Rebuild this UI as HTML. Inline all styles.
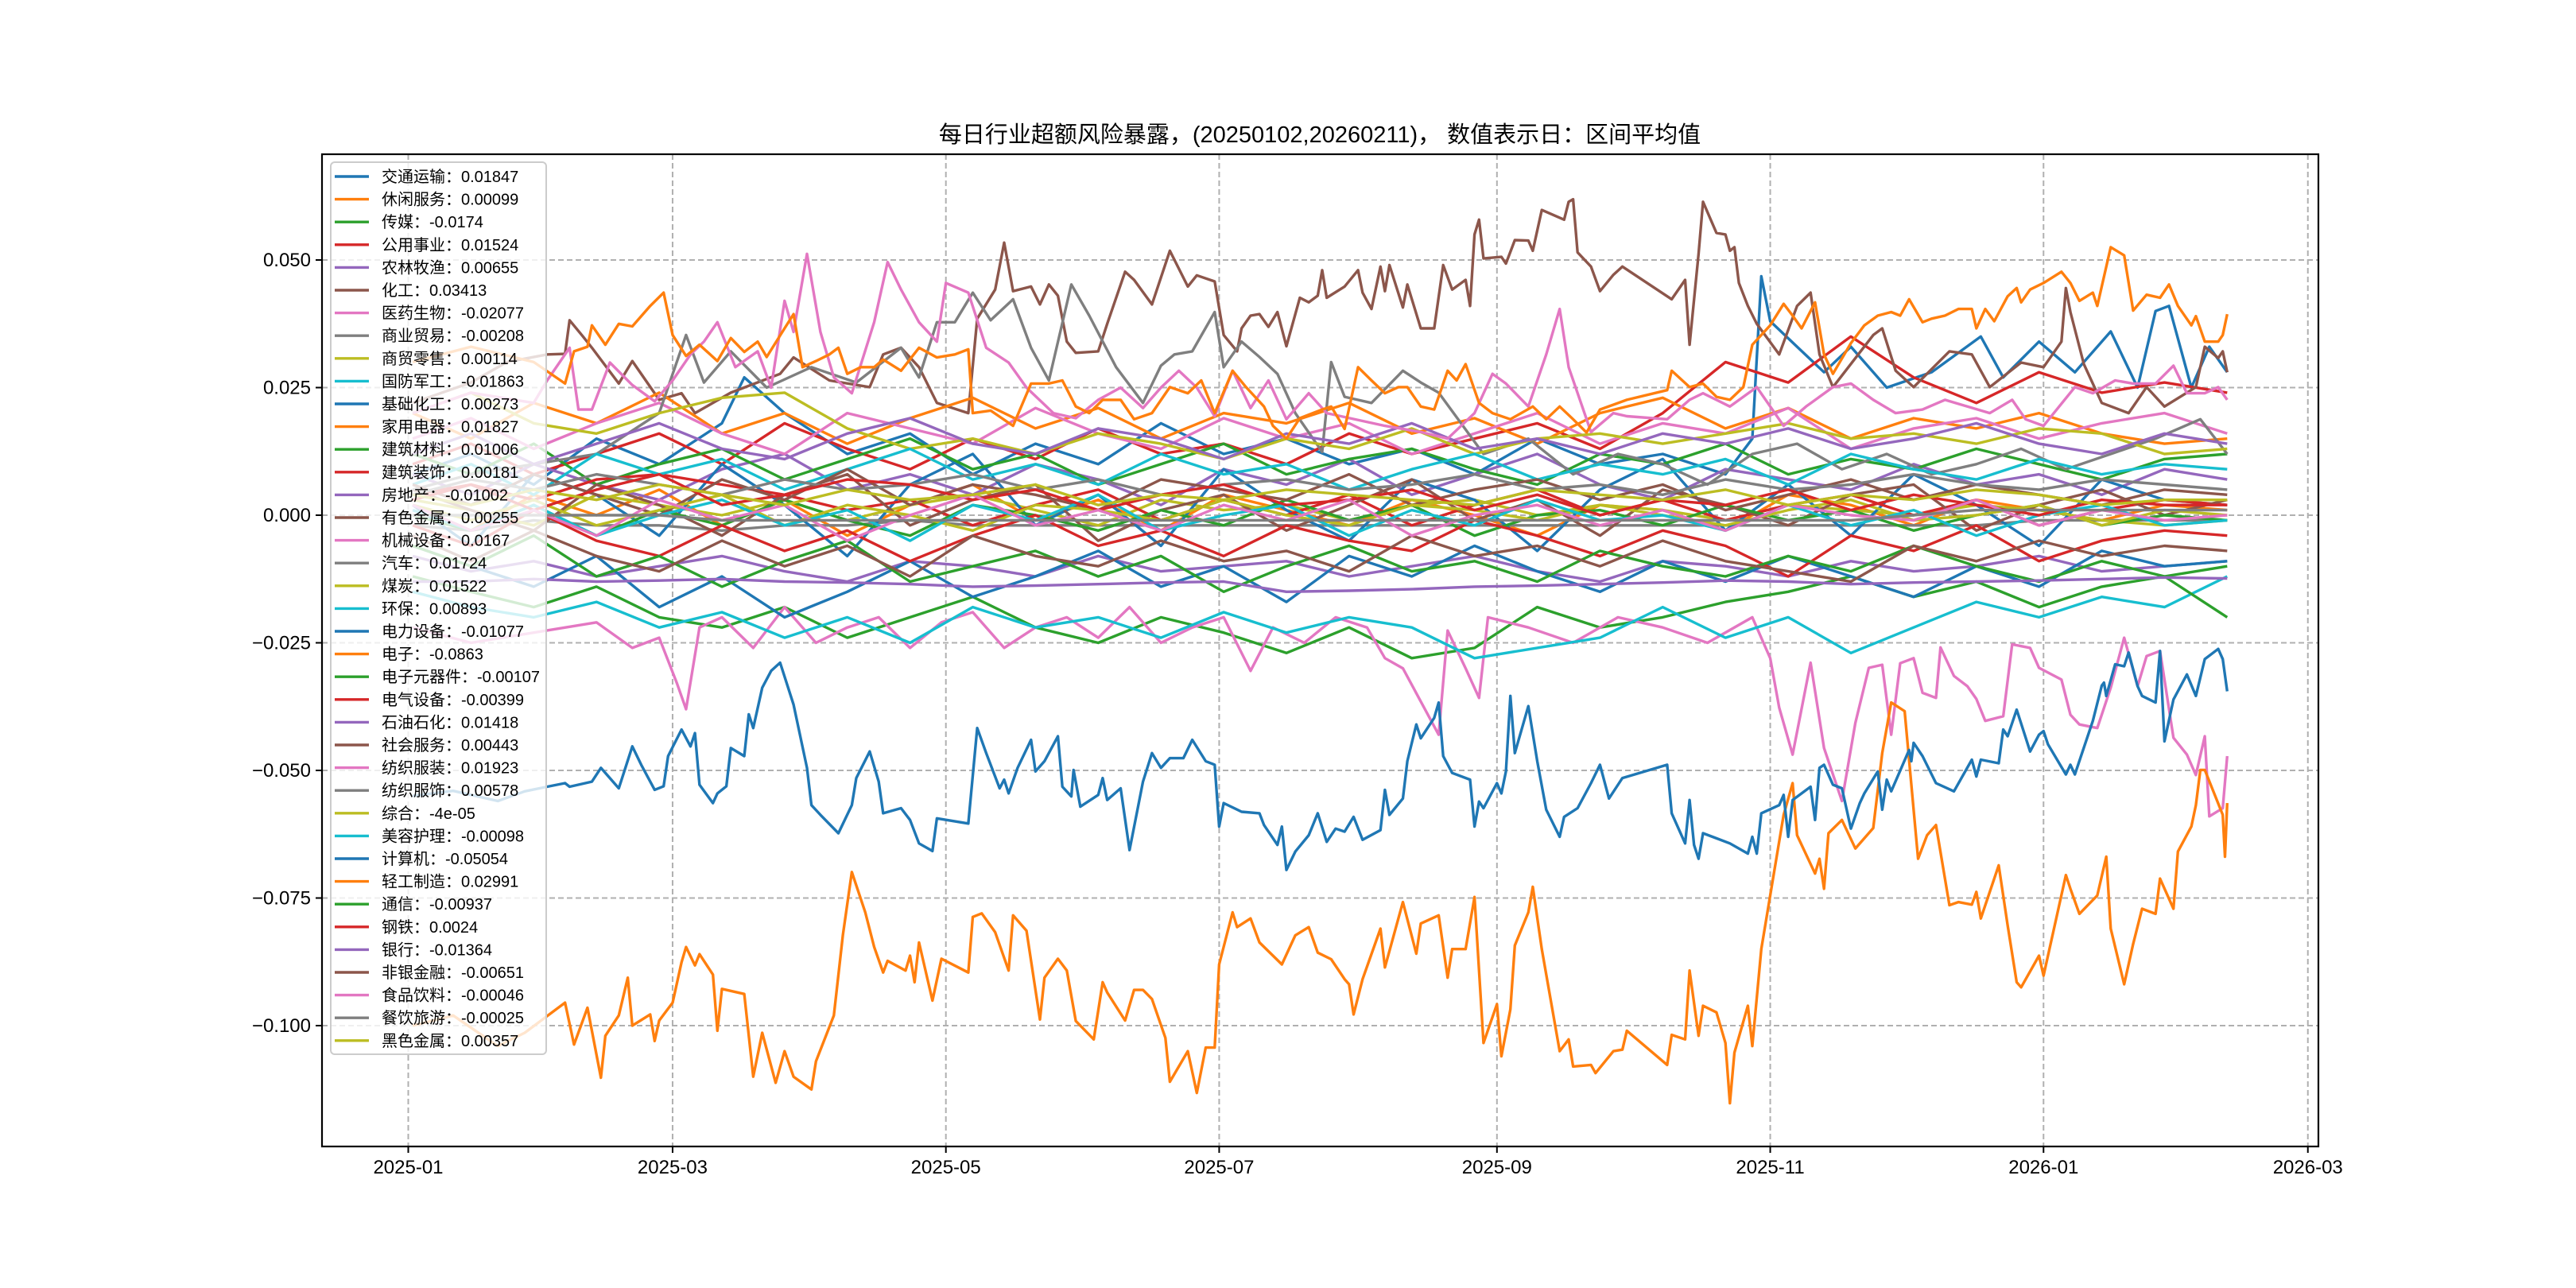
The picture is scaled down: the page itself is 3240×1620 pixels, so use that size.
<!DOCTYPE html>
<html><head><meta charset="utf-8"><style>
html,body{margin:0;padding:0;background:#fff;}
svg{display:block;}
text{font-family:"Liberation Sans","Noto Sans CJK SC",sans-serif;}
</style></head>
<body>
<svg id="chart" width="3240" height="1620" viewBox="0 0 3240 1620" xmlns="http://www.w3.org/2000/svg">
<rect x="0" y="0" width="3240" height="1620" fill="#fff"/>
<text x="1660" y="179" text-anchor="middle" font-size="29" fill="#000">每日行业超额风险暴露，(20250102,20260211)， 数值表示日：区间平均值</text>
<defs><clipPath id="plotclip"><rect x="405" y="194" width="2511" height="1248"/></clipPath></defs>
<g id="grid"></g>
<g id="series" clip-path="url(#plotclip)"></g>
<rect x="405" y="194" width="2511" height="1248" fill="none" stroke="#000" stroke-width="2.2"/>
<g id="axes"></g>
<g id="legend"></g>
</svg>
<script>
const yTicks = [-0.1,-0.075,-0.05,-0.025,0,0.025,0.05];
const yTickLabels = ["−0.100","−0.075","−0.050","−0.025","0.000","0.025","0.050"];
const xTickLabels = ["2025-01","2025-03","2025-05","2025-07","2025-09","2025-11","2026-01","2026-03"];
const colors = ["#1f77b4","#ff7f0e","#2ca02c","#d62728","#9467bd","#8c564b","#e377c2","#7f7f7f","#bcbd22","#17becf"];
const names = ["交通运输","休闲服务","传媒","公用事业","农林牧渔","化工","医药生物","商业贸易","商贸零售","国防军工","基础化工","家用电器","建筑材料","建筑装饰","房地产","有色金属","机械设备","汽车","煤炭","环保","电力设备","电子","电子元器件","电气设备","石油石化","社会服务","纺织服装","纺织服饰","综合","美容护理","计算机","轻工制造","通信","钢铁","银行","非银金融","食品饮料","餐饮旅游","黑色金属"];
const means = ["0.01847","0.00099","-0.0174","0.01524","0.00655","0.03413","-0.02077","-0.00208","0.00114","-0.01863","0.00273","0.01827","0.01006","0.00181","-0.01002","0.00255","0.0167","0.01724","0.01522","0.00893","-0.01077","-0.0863","-0.00107","-0.00399","0.01418","0.00443","0.01923","0.00578","-4e-05","-0.00098","-0.05054","0.02991","-0.00937","0.0024","-0.01364","-0.00651","-0.00046","-0.00025","0.00357"];

const gridDays = [1,14,28,42,56,70,84,98,112,126,140,154,168,182,196,210,224,238,252,266,280,294,308,322,336,350,364,378,392,406];

const v_xiuxian = [0.002,-0.003,0.004,0,0.005,-0.002,0.003,-0.004,0.002,0.006,-0.001,0.003,-0.003,0.004,0.001,-0.002,0.003,0,-0.004,0.002,0.001,-0.003,0.004,0.002,-0.002,0.003,0.001,-0.001,0.002,0.001];
const v_chuanmei = [-0.012,-0.015,-0.018,-0.014,-0.02,-0.022,-0.018,-0.024,-0.02,-0.016,-0.022,-0.025,-0.02,-0.023,-0.027,-0.022,-0.028,-0.026,-0.018,-0.022,-0.02,-0.017,-0.015,-0.012,-0.016,-0.013,-0.018,-0.014,-0.012,-0.01];
const v_gongyong = [0.01,0.014,0.008,0.012,0.016,0.01,0.018,0.013,0.009,0.015,0.011,0.017,0.012,0.014,0.01,0.016,0.012,0.015,0.018,0.013,0.02,0.03,0.026,0.035,0.027,0.022,0.028,0.024,0.026,0.024];
const v_nonglin = [0.008,0.004,0.01,0.006,0.003,0.009,0.012,0.005,0.008,0.004,0.01,0.007,0.002,0.009,0.006,0.011,0.004,0.008,0.012,0.006,0.003,0.009,0.007,0.005,0.01,0.006,0.008,0.004,0.009,0.007];
const v_shangmao = [-0.002,-0.003,-0.001,-0.002,-0.002,-0.003,-0.002,-0.002,-0.001,-0.002,-0.002,-0.002,-0.002,-0.002,-0.002,-0.002,-0.002,-0.002,-0.002,-0.002,-0.002,-0.002,-0.002,-0.002,-0.002,-0.002,-0.001,-0.001,-0.001,-0.001];
const v_lingshou = [0.003,0.001,-0.002,0.004,0.002,0,0.003,-0.001,0.002,0.004,0.001,-0.002,0.003,0.001,0.002,-0.001,0.002,0.003,0,0.002,0.001,-0.001,0.002,0.001,0,0.002,0.001,-0.001,-0.002,-0.001];
const v_guofang = [-0.015,-0.018,-0.02,-0.017,-0.022,-0.019,-0.024,-0.02,-0.025,-0.018,-0.022,-0.02,-0.024,-0.019,-0.023,-0.02,-0.022,-0.028,-0.026,-0.024,-0.018,-0.024,-0.02,-0.027,-0.022,-0.017,-0.02,-0.016,-0.018,-0.012];
const v_jichu = [0.002,-0.006,0.008,0.004,-0.004,0.01,0.002,-0.008,0.006,0.012,-0.002,0.004,-0.006,0.009,0.001,-0.005,0.007,0.003,-0.007,0.005,0.011,-0.003,0.006,-0.004,0.008,0.002,-0.006,0.007,0.003,0.002];
const v_jiadian = [0.02,0.015,0.022,0.018,0.024,0.016,0.02,0.014,0.019,0.023,0.017,0.021,0.015,0.02,0.018,0.022,0.016,0.019,0.014,0.02,0.023,0.017,0.021,0.015,0.019,0.017,0.02,0.016,0.014,0.015];
const v_jiancai = [0.012,0.008,0.014,0.006,0.01,0.013,0.007,0.011,0.015,0.009,0.012,0.006,0.01,0.014,0.008,0.011,0.013,0.009,0.006,0.012,0.01,0.014,0.008,0.011,0.009,0.013,0.01,0.007,0.011,0.012];
const v_jianzhuang = [0.004,0.006,0.003,0.007,0.008,0.006,0.004,0.001,0.003,-0.002,0.002,0.005,-0.001,0.003,0,0.004,-0.002,0.002,0.005,0,0.003,-0.001,0.002,0.004,0,0.003,-0.002,0.001,0.003,0.002];
const v_fangdichan = [-0.008,-0.011,-0.009,-0.012,-0.01,-0.008,-0.011,-0.013,-0.009,-0.01,-0.012,-0.008,-0.011,-0.01,-0.009,-0.012,-0.01,-0.008,-0.011,-0.013,-0.009,-0.01,-0.012,-0.009,-0.011,-0.01,-0.008,-0.011,-0.01,-0.009];
const v_youse = [0.005,0.001,-0.003,0.006,0.002,-0.004,0.004,0.008,-0.002,0.003,0.006,-0.005,0.001,0.004,-0.003,0.002,0.007,-0.001,0.003,-0.004,0.005,0.002,-0.002,0.004,0.006,-0.003,0.002,0.005,0,0.003];
const v_jixie = [0.015,0.019,0.013,0.018,0.022,0.016,0.012,0.02,0.017,0.014,0.021,0.016,0.013,0.019,0.015,0.018,0.012,0.016,0.02,0.014,0.018,0.016,0.021,0.013,0.017,0.019,0.015,0.018,0.02,0.016];
const v_meitan = [0.02,0.024,0.018,0.016,0.02,0.023,0.024,0.017,0.013,0.015,0.012,0.016,0.014,0.011,0.015,0.013,0.017,0.012,0.015,0.016,0.014,0.016,0.018,0.015,0.016,0.014,0.017,0.016,0.012,0.013];
const v_huanbao = [0.006,0.01,0.004,0.012,0.008,0.011,0.005,0.009,0.013,0.007,0.01,0.006,0.012,0.008,0.01,0.005,0.009,0.012,0.007,0.01,0.008,0.011,0.006,0.012,0.009,0.007,0.011,0.008,0.01,0.009];
const v_dianli = [-0.006,-0.01,-0.014,-0.008,-0.018,-0.012,-0.02,-0.015,-0.009,-0.016,-0.012,-0.007,-0.014,-0.01,-0.017,-0.008,-0.012,-0.006,-0.011,-0.015,-0.009,-0.013,-0.008,-0.012,-0.016,-0.01,-0.014,-0.007,-0.01,-0.009];
const v_yuanqijian = [0,-0.003,0.002,-0.004,0.001,-0.002,0.003,-0.001,-0.004,0.002,0,-0.003,0.001,-0.002,0.003,-0.001,0.002,-0.004,0,0.001,-0.002,0.002,-0.001,0.001,-0.003,0,0.002,-0.002,0,-0.001];
const v_dianqi = [-0.002,-0.006,0.001,-0.005,-0.008,-0.002,-0.007,-0.003,-0.009,-0.004,0,-0.006,-0.003,-0.008,-0.002,-0.005,-0.007,-0.001,-0.004,-0.008,-0.003,-0.006,-0.012,-0.004,-0.007,-0.002,-0.009,-0.005,-0.003,-0.004];
const v_shiyou = [0.012,0.016,0.01,0.014,0.018,0.013,0.011,0.016,0.019,0.014,0.012,0.017,0.015,0.011,0.016,0.014,0.018,0.013,0.015,0.012,0.016,0.014,0.017,0.013,0.015,0.018,0.014,0.012,0.016,0.014];
const v_shehui = [0.006,0.002,0.008,0.004,0,0.007,0.003,0.009,0.002,0.006,0.004,0.001,0.007,0.005,0.003,0.008,0.002,0.005,0.007,0.003,0.006,0.001,0.004,0.007,0.003,0.006,0.004,0.002,0.005,0.004];
const v_fangzhifushi = [0.004,0.007,0.005,0.008,0.006,0.004,0.007,0.005,0.006,0.008,0.005,0.007,0.004,0.006,0.007,0.005,0.006,0.008,0.005,0.006,0.004,0.007,0.005,0.006,0.008,0.006,0.005,0.007,0.006,0.005];
const v_zonghe = [0.002,-0.001,0.003,-0.002,0.001,0.004,-0.002,0.002,0,-0.003,0.002,0.001,-0.001,0.003,0,-0.002,0.002,0.001,-0.001,0.002,0,-0.002,0.001,0.003,-0.001,0,0.002,-0.002,0.001,0];
const v_meirong = [0.001,-0.003,0.002,-0.004,0,0.003,-0.002,0.001,-0.005,0.002,-0.001,0.004,-0.003,0,0.002,-0.004,0.001,-0.002,0.003,-0.001,0,-0.003,0.002,-0.002,0.001,-0.004,0,0.002,-0.002,-0.001];
const v_tongxin = [-0.006,-0.01,-0.004,-0.012,-0.008,-0.014,-0.009,-0.005,-0.013,-0.01,-0.007,-0.012,-0.008,-0.015,-0.01,-0.006,-0.011,-0.009,-0.013,-0.007,-0.01,-0.012,-0.008,-0.011,-0.006,-0.01,-0.013,-0.009,-0.012,-0.02];
const v_gangtie = [0.003,0.006,0.001,0.005,0.008,0.002,0.004,0.007,0.006,0.003,0.005,0.001,0.004,0.006,0.002,0.003,0.005,0.001,0.004,0,0.003,0.002,0.005,0.001,0.004,0.002,0,0.003,0.002,0.002];
const v_yinhang = [-0.013,-0.013,-0.0125,-0.013,-0.0128,-0.0125,-0.013,-0.0132,-0.0135,-0.014,-0.0138,-0.0135,-0.0132,-0.013,-0.015,-0.0148,-0.0145,-0.014,-0.0138,-0.0135,-0.0132,-0.0128,-0.013,-0.0135,-0.0132,-0.013,-0.0128,-0.0125,-0.0122,-0.0124];
const v_feiyin = [-0.004,-0.009,-0.003,-0.008,-0.011,-0.005,-0.01,-0.006,-0.012,-0.004,-0.008,-0.01,-0.005,-0.009,-0.007,-0.011,-0.004,-0.008,-0.006,-0.01,-0.005,-0.009,-0.011,-0.013,-0.006,-0.009,-0.005,-0.008,-0.006,-0.007];
const v_shipin = [0.002,-0.003,0.001,-0.004,0.003,-0.001,0.002,-0.005,0,0.004,-0.002,0.001,-0.003,0.002,-0.001,0.003,-0.004,0,0.002,-0.002,0.001,-0.003,0.002,0,-0.001,0.003,-0.002,0.001,-0.001,0];
const v_canyin = [0,0,0,0,0,-0.001,-0.001,-0.001,-0.001,-0.001,-0.001,-0.001,-0.001,-0.001,-0.001,-0.001,-0.001,-0.001,-0.001,-0.001,-0.001,-0.001,-0.001,-0.001,0,0.001,0.001,0.001,0.001,0.001];
const v_heise = [0.004,0.002,0.005,0.003,0.006,0.004,0.002,0.005,0.003,0.004,0.006,0.002,0.004,0.003,0.005,0.004,0.003,0.002,0.005,0.004,0.003,0.005,0.002,0.004,0.003,0.005,0.004,0.002,0.003,0.003];

const d_jiaotong = [1,14,28,42,56,70,75,84,98,112,126,140,154,168,182,196,210,224,238,252,266,280,294,300,302,304,310,316,322,330,340,351,356,364,372,380,386,390,393,398,402,406];
const v_jiaotong = [0.008,0.012,0.006,0.015,0.01,0.018,0.027,0.02,0.012,0.016,0.008,0.014,0.01,0.018,0.012,0.015,0.01,0.013,0.008,0.015,0.01,0.012,0.008,0.015,0.0468,0.038,0.033,0.028,0.033,0.025,0.028,0.035,0.027,0.034,0.028,0.036,0.025,0.04,0.041,0.025,0.033,0.028];

const d_huagong = [1,14,22,31,35,36,39,41,44,47,50,53,56,61,64,72,83,86,94,103,106,110,114,118,125,127,131,133,135,139,141,143,145,147,149,154,156,160,162,166,170,174,176,180,182,185,186,188,190,192,194,196,199,201,203,204,205,209,212,213,215,217,218,219,222,223,226,229,231,233,236,237,238,239,240,244,245,247,250,251,253,258,259,260,261,264,266,269,271,282,285,286,288,289,292,294,295,296,297,299,301,306,310,313,315,318,327,329,332,336,344,349,353,360,365,369,370,371,374,378,384,388,392,399,401,404,405,406];
const v_huagong = [0.022,0.026,0.03,0.0315,0.0316,0.0382,0.035,0.0328,0.0293,0.0258,0.0302,0.0264,0.0226,0.0239,0.02,0.024,0.0277,0.0309,0.0264,0.0251,0.0315,0.0328,0.029,0.022,0.02,0.0385,0.0442,0.0534,0.0439,0.0448,0.0413,0.0452,0.043,0.034,0.0318,0.0321,0.0375,0.0477,0.0461,0.0413,0.0518,0.0448,0.047,0.0458,0.0353,0.0321,0.0366,0.0391,0.0394,0.0369,0.0398,0.0331,0.0426,0.0417,0.043,0.048,0.0426,0.0448,0.048,0.0436,0.0404,0.0487,0.0439,0.049,0.0407,0.0452,0.0366,0.0366,0.049,0.0442,0.0461,0.041,0.055,0.0579,0.0503,0.0506,0.0493,0.0539,0.0538,0.0518,0.0598,0.0579,0.0614,0.0619,0.0515,0.0487,0.0439,0.0471,0.0487,0.0423,0.0461,0.0334,0.0512,0.0614,0.0553,0.055,0.0518,0.0525,0.0455,0.041,0.0375,0.0315,0.041,0.0436,0.0315,0.0251,0.0353,0.0366,0.0283,0.0251,0.0321,0.0315,0.0251,0.0299,0.029,0.034,0.0445,0.0398,0.0296,0.022,0.02,0.0251,0.0213,0.0251,0.033,0.0308,0.0321,0.028];

const d_yiyao = [1,14,28,42,50,56,60,62,65,70,77,84,91,98,105,112,119,126,133,140,147,154,161,168,175,182,188,193,200,207,214,218,222,226,230,232,236,239,241,250,260,270,280,290,300,304,306,309,313,316,320,323,326,329,331,333,336,338,341,342,345,348,350,352,356,358,362,364,369,371,373,377,380,383,386,388,391,394,397,399,401,402,405,406];
const v_yiyao = [-0.022,-0.025,-0.023,-0.021,-0.026,-0.024,-0.033,-0.038,-0.022,-0.02,-0.026,-0.018,-0.025,-0.022,-0.02,-0.026,-0.021,-0.019,-0.026,-0.022,-0.02,-0.024,-0.018,-0.025,-0.022,-0.02,-0.0305,-0.022,-0.025,-0.02,-0.022,-0.028,-0.03,-0.0365,-0.043,-0.0226,-0.03,-0.0358,-0.02,-0.022,-0.025,-0.02,-0.022,-0.025,-0.02,-0.028,-0.0377,-0.0469,-0.0289,-0.0456,-0.056,-0.0407,-0.0299,-0.0293,-0.043,-0.029,-0.028,-0.0348,-0.0358,-0.0259,-0.0315,-0.0335,-0.036,-0.0403,-0.0394,-0.0253,-0.026,-0.0299,-0.0322,-0.0391,-0.041,-0.0417,-0.0338,-0.024,-0.0335,-0.0276,-0.0266,-0.0436,-0.0469,-0.0509,-0.0433,-0.059,-0.0574,-0.0472];

const d_qiche = [1,14,28,42,56,62,66,72,80,90,100,110,114,118,122,126,130,135,139,143,148,152,158,164,168,171,175,180,182,186,190,194,198,204,206,209,215,222,226,230,240,250,260,270,280,290,300,310,320,330,340,350,360,370,380,390,400,406];
const v_qiche = [0.005,0.008,0.01,0.012,0.02,0.0353,0.026,0.0321,0.025,0.029,0.026,0.0328,0.027,0.0378,0.0378,0.0436,0.0382,0.0423,0.0328,0.0264,0.0452,0.0391,0.029,0.022,0.0293,0.0315,0.0321,0.0398,0.029,0.034,0.031,0.0277,0.02,0.0124,0.03,0.0232,0.022,0.0283,0.026,0.024,0.012,0.015,0.008,0.012,0.01,0.006,0.012,0.014,0.009,0.012,0.008,0.01,0.013,0.009,0.012,0.015,0.0188,0.012];

const d_fangzhi = [1,14,28,31,36,38,41,45,50,55,59,63,66,69,73,78,81,84,86,89,92,95,99,104,107,110,114,118,120,125,129,134,138,144,149,154,159,164,168,172,176,180,184,188,192,196,201,205,218,226,232,238,242,245,250,254,257,259,264,269,272,281,286,289,295,301,307,312,318,322,327,332,338,343,348,353,358,361,365,372,376,381,385,390,394,397,401,404,406];
const v_fangzhi = [0.02,0.024,0.022,0.0264,0.0328,0.0207,0.0207,0.0299,0.0255,0.0223,0.0264,0.0315,0.034,0.0378,0.029,0.0321,0.025,0.042,0.0359,0.0512,0.0359,0.027,0.0239,0.0378,0.0496,0.0442,0.0378,0.034,0.0455,0.0436,0.0328,0.0299,0.025,0.02,0.019,0.0226,0.025,0.021,0.025,0.0283,0.025,0.0194,0.0283,0.021,0.0264,0.0188,0.0239,0.02,0.0175,0.0163,0.015,0.02,0.0277,0.0258,0.0213,0.0315,0.0404,0.029,0.0163,0.02,0.0194,0.0188,0.0226,0.0239,0.0213,0.0251,0.0175,0.0213,0.0251,0.0258,0.0226,0.02,0.0207,0.0226,0.0213,0.02,0.0226,0.0188,0.0175,0.0251,0.0239,0.0264,0.0258,0.0258,0.0293,0.0239,0.0239,0.0251,0.0226];

const d_dianzi = [1,10,20,26,35,37,40,43,44,47,49,50,54,55,56,59,61,62,64,65,68,69,70,75,77,79,82,84,86,90,91,95,97,99,102,104,106,107,111,112,113,114,117,119,125,126,128,131,134,135,138,141,142,145,147,149,153,155,156,160,162,164,166,169,170,174,176,178,180,181,184,185,188,190,195,198,201,203,206,209,210,211,213,217,218,222,225,226,230,232,233,236,238,240,243,244,246,247,250,251,253,257,259,260,264,265,269,271,272,281,282,285,286,288,289,292,294,295,296,299,300,302,304,307,309,310,314,315,316,317,320,323,327,329,331,334,337,339,341,344,346,349,350,351,355,357,359,360,364,365,370,371,373,377,379,380,383,385,387,390,391,394,395,398,399,400,401,405,405.5,406];
const v_dianzi = [-0.1,-0.098,-0.104,-0.1014,-0.0955,-0.1037,-0.0965,-0.1102,-0.102,-0.098,-0.0906,-0.1,-0.0978,-0.103,-0.099,-0.0955,-0.0876,-0.0846,-0.0882,-0.086,-0.09,-0.101,-0.0928,-0.0938,-0.11,-0.1014,-0.1112,-0.105,-0.11,-0.1125,-0.107,-0.098,-0.0823,-0.0699,-0.0778,-0.0846,-0.0896,-0.0873,-0.0892,-0.0863,-0.0915,-0.0837,-0.0951,-0.0869,-0.0896,-0.0787,-0.078,-0.0817,-0.0892,-0.0784,-0.0814,-0.0988,-0.0906,-0.0869,-0.0892,-0.0991,-0.1027,-0.0915,-0.0935,-0.099,-0.093,-0.093,-0.0948,-0.1024,-0.111,-0.105,-0.1132,-0.1043,-0.1043,-0.088,-0.0778,-0.0807,-0.079,-0.0837,-0.088,-0.0823,-0.0807,-0.0857,-0.087,-0.0909,-0.0919,-0.0978,-0.0909,-0.081,-0.0886,-0.0758,-0.0859,-0.08,-0.0784,-0.0906,-0.085,-0.085,-0.0748,-0.1034,-0.0958,-0.106,-0.0968,-0.0843,-0.0778,-0.0728,-0.085,-0.105,-0.1027,-0.108,-0.1077,-0.1093,-0.105,-0.1047,-0.101,-0.1077,-0.1018,-0.1027,-0.0892,-0.102,-0.0961,-0.0974,-0.1034,-0.1152,-0.1053,-0.0961,-0.104,-0.085,-0.0745,-0.0587,-0.0525,-0.0627,-0.0702,-0.0673,-0.0732,-0.0623,-0.0597,-0.0653,-0.0613,-0.0466,-0.0367,-0.0384,-0.0673,-0.0627,-0.0607,-0.0764,-0.0758,-0.0763,-0.0738,-0.079,-0.0686,-0.0804,-0.0915,-0.0925,-0.0863,-0.0902,-0.0705,-0.0732,-0.0781,-0.0745,-0.0669,-0.081,-0.0919,-0.084,-0.0771,-0.0781,-0.0712,-0.0771,-0.0659,-0.061,-0.0568,-0.0499,-0.0499,-0.0587,-0.0669,-0.0564];

const d_jisuanji = [1,10,20,26,31,35,36,41,43,47,50,52,55,57,58,61,63,64,65,68,69,71,72,75,76,77,79,81,83,86,89,90,92,96,99,100,103,105,106,110,112,114,117,118,125,127,129,132,133,134,136,139,140,142,145,146,148,148.5,150,154,155,156,159,161,164,166,168,170,173,175,178,180,181,182,186,190,191,194,195,196,198,201,203,205,207,209,211,213,217,218,219,222,223,225,226,229,230,231,233,237,238,239,240,243,244,245,246,247,250,252,254,257,258,261,264,266,268,271,281,282,285,286,287,288,289,292,295,299,300,301,302,306,307,308,309,313,314,315,316,318,320,322,324,325,328,329,330,331,335,335.5,336,338,341,345,349,350,351,355,356,357,359,362,364,365,366,370,371,372,376,378,378.5,379,381,383,384,386,387,390,391,392,394,397,399,401,404,405,406];
const v_jisuanji = [-0.055,-0.054,-0.056,-0.0541,-0.0532,-0.0525,-0.0532,-0.0522,-0.0495,-0.0535,-0.0453,-0.0489,-0.0538,-0.0531,-0.0472,-0.042,-0.0453,-0.0427,-0.0528,-0.0564,-0.0545,-0.0531,-0.0456,-0.0472,-0.039,-0.0417,-0.0338,-0.0305,-0.0289,-0.0371,-0.0495,-0.0568,-0.0587,-0.0623,-0.0568,-0.0515,-0.0463,-0.0522,-0.0584,-0.0574,-0.0597,-0.0643,-0.0658,-0.0594,-0.0604,-0.0417,-0.0466,-0.0535,-0.0518,-0.0545,-0.0495,-0.044,-0.0502,-0.0482,-0.0433,-0.0532,-0.0551,-0.0499,-0.0571,-0.0548,-0.0515,-0.0558,-0.0535,-0.0656,-0.0522,-0.0466,-0.0495,-0.0476,-0.0476,-0.044,-0.0482,-0.0489,-0.061,-0.0564,-0.0581,-0.0584,-0.0607,-0.0646,-0.061,-0.0695,-0.0659,-0.0627,-0.0584,-0.064,-0.0614,-0.062,-0.0591,-0.0636,-0.0617,-0.0538,-0.0587,-0.0555,-0.0482,-0.041,-0.0437,-0.0397,-0.0367,-0.0472,-0.0505,-0.0518,-0.061,-0.0561,-0.0574,-0.0525,-0.0545,-0.0502,-0.0354,-0.0466,-0.0374,-0.0482,-0.0577,-0.063,-0.0591,-0.0574,-0.0525,-0.0489,-0.0555,-0.0515,-0.0489,-0.0584,-0.0643,-0.0558,-0.0646,-0.0673,-0.0623,-0.0633,-0.0643,-0.0663,-0.063,-0.0663,-0.0584,-0.0568,-0.0548,-0.063,-0.0558,-0.0532,-0.0597,-0.0495,-0.0489,-0.0528,-0.0535,-0.0614,-0.0564,-0.0545,-0.0502,-0.0577,-0.0518,-0.0541,-0.046,-0.0482,-0.0446,-0.0472,-0.0525,-0.0541,-0.0479,-0.0512,-0.0479,-0.0486,-0.042,-0.0433,-0.0381,-0.0463,-0.043,-0.0423,-0.0449,-0.0508,-0.0489,-0.0508,-0.0403,-0.0334,-0.0328,-0.0354,-0.0292,-0.0296,-0.0269,-0.0335,-0.0354,-0.0367,-0.0266,-0.0443,-0.0361,-0.0312,-0.0354,-0.0282,-0.0262,-0.0282,-0.0345];

const d_qinggong = [1,14,28,35,37,40,41,44,47,50,54,57,59,62,65,69,72,75,78,80,84,86,88,91,94,96,98,101,104,106,110,114,118,122,125,126,130,135,139,143,146,149,152,155,159,162,166,170,174,177,180,184,187,191,193,196,199,204,206,209,212,215,218,221,223,226,229,232,234,236,239,242,246,251,254,257,260,263,266,272,281,282,286,289,292,295,298,300,302,304,307,309,311,314,316,318,322,325,328,331,333,335,338,340,343,346,349,350,352,354,357,359,360,362,365,369,371,373,376,377,380,383,385,388,391,393,395,398,399,401,404,405,406];
const v_qinggong = [0.03,0.033,0.03,0.0258,0.0321,0.033,0.0372,0.0334,0.0375,0.037,0.041,0.0436,0.0353,0.0312,0.0334,0.0302,0.0347,0.032,0.034,0.031,0.0366,0.0394,0.029,0.0302,0.0315,0.0328,0.0277,0.029,0.029,0.0305,0.0283,0.0328,0.0309,0.0315,0.0325,0.02,0.0205,0.0175,0.0258,0.0258,0.0264,0.0213,0.02,0.0226,0.0226,0.0188,0.02,0.0251,0.0239,0.0264,0.02,0.0283,0.0251,0.0213,0.0175,0.015,0.019,0.0207,0.0213,0.0169,0.029,0.0264,0.0239,0.0251,0.0251,0.0213,0.0207,0.0283,0.0264,0.0296,0.022,0.02,0.0188,0.0213,0.0188,0.0213,0.0188,0.0162,0.0207,0.0226,0.0245,0.0283,0.0251,0.0258,0.0232,0.0226,0.0251,0.0334,0.0353,0.0372,0.0414,0.0391,0.0366,0.0417,0.0315,0.0277,0.0337,0.0372,0.0391,0.0398,0.0391,0.0423,0.0378,0.0385,0.0391,0.0404,0.0404,0.0366,0.0404,0.038,0.0429,0.0445,0.0417,0.0442,0.0455,0.0477,0.0455,0.042,0.0436,0.041,0.0525,0.0509,0.0401,0.0432,0.0426,0.0452,0.041,0.0372,0.039,0.034,0.034,0.0353,0.0394];

const seriesDays = [d_jiaotong,gridDays,gridDays,gridDays,gridDays,d_huagong,d_yiyao,gridDays,gridDays,gridDays,gridDays,gridDays,gridDays,gridDays,gridDays,gridDays,gridDays,d_qiche,gridDays,gridDays,gridDays,d_dianzi,gridDays,gridDays,gridDays,gridDays,d_fangzhi,gridDays,gridDays,gridDays,d_jisuanji,d_qinggong,gridDays,gridDays,gridDays,gridDays,gridDays,gridDays,gridDays];
const seriesVals = [v_jiaotong,v_xiuxian,v_chuanmei,v_gongyong,v_nonglin,v_huagong,v_yiyao,v_shangmao,v_lingshou,v_guofang,v_jichu,v_jiadian,v_jiancai,v_jianzhuang,v_fangdichan,v_youse,v_jixie,v_qiche,v_meitan,v_huanbao,v_dianli,v_dianzi,v_yuanqijian,v_dianqi,v_shiyou,v_shehui,v_fangzhi,v_fangzhifushi,v_zonghe,v_meirong,v_jisuanji,v_qinggong,v_tongxin,v_gangtie,v_yinhang,v_feiyin,v_shipin,v_canyin,v_heise];

const NS = "http://www.w3.org/2000/svg";
const X0 = 513.5, PXD = 5.635, Y0 = 648, PXV = 6420;
const PL = 405, PR = 2916, PT = 194, PB = 1442;
function xScale(d){ return X0 + PXD * d; }
function yScale(v){ return Y0 - PXV * v; }
function dayOf(label){ const p = label.split("-"); return (Date.UTC(+p[0], +p[1]-1, 1) - Date.UTC(2025,0,1)) / 86400000; }
function mk(tag, attrs, parent){ const e = document.createElementNS(NS, tag); for (const k in attrs) e.setAttribute(k, attrs[k]); parent.appendChild(e); return e; }

const grid = document.getElementById("grid");
const axes = document.getElementById("axes");
const sg = document.getElementById("series");
const lg = document.getElementById("legend");

yTicks.forEach((t, i) => {
  const y = yScale(t);
  const gl = mk("line", {x1:PL, x2:PR, y1:y, y2:y, stroke:"#b0b0b0", "stroke-width":2, "stroke-dasharray":"7,4"}, grid);
  
  
  const tk = mk("line", {x1:PL-8, x2:PL, y1:y, y2:y, stroke:"#000", "stroke-width":2}, axes);
  
  
  const tx = mk("text", {x:PL-14, y:y+8, "text-anchor":"end", "font-size":24, fill:"#000"}, axes);
  tx.textContent = yTickLabels[i];
  
  
});
xTickLabels.forEach(lab => {
  const x = xScale(dayOf(lab));
  const gl = mk("line", {x1:x, x2:x, y1:PT, y2:PB, stroke:"#b0b0b0", "stroke-width":2, "stroke-dasharray":"7,4"}, grid);
  
  
  const tk = mk("line", {x1:x, x2:x, y1:PB, y2:PB+8, stroke:"#000", "stroke-width":2}, axes);
  
  
  const tx = mk("text", {x:x, y:PB+34, "text-anchor":"middle", "font-size":24, fill:"#000"}, axes);
  tx.textContent = lab;
  
  
});

seriesVals.forEach((vals, i) => {
  const days = seriesDays[i];
  let d = "";
  for (let k = 0; k < vals.length && k < days.length; k++) {
    d += (k ? "L" : "M") + xScale(days[k]).toFixed(1) + "," + yScale(vals[k]).toFixed(1);
  }
  const p = mk("path", {d:d, fill:"none", stroke:colors[i % 10], "stroke-width":3.4, "stroke-linejoin":"round"}, sg);
  
  
});

const box = mk("rect", {x:416, y:204, width:271, height:1122, rx:5, fill:"#fff", "fill-opacity":0.8, stroke:"#cccccc", "stroke-width":2}, lg);


names.forEach((n, i) => {
  const y = 222 + i * 28.6;
  const ln = mk("line", {x1:421, x2:464, y1:y, y2:y, stroke:colors[i % 10], "stroke-width":3.4}, lg);
  
  
  const t = mk("text", {x:480, y:y+7, "font-size":20, fill:"#000"}, lg);
  t.textContent = n + "：" + means[i];
  
  
});
</script>
</body></html>
